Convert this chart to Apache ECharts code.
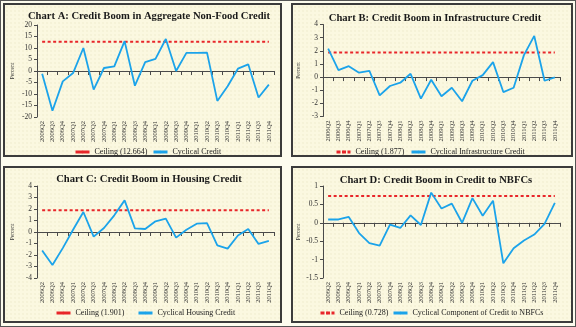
<!DOCTYPE html>
<html>
<head>
<meta charset="utf-8">
<script src="https://cdn.jsdelivr.net/npm/echarts@6/dist/echarts.min.js"></script>
<style>
  html, body { margin: 0; padding: 0; }
  body { width: 576px; height: 327px; position: relative; background: #fdfcee; overflow: hidden; }
  #frame { position: absolute; left: 0; top: 0; width: 576px; height: 327px; border: 1px solid #555; box-sizing: border-box; }
  .panel {
    position: absolute; box-sizing: border-box; border: 2px solid #3c3c3c;
    background-color: #fbf8e0;
    background-image: radial-gradient(rgba(200, 185, 130, 0.3) 0.5px, transparent 0.8px);
    background-size: 4px 4px;
  }
  #chart { position: absolute; left: 0; top: 0; width: 576px; height: 327px; }
</style>
</head>
<body>
<div id="frame"></div>
<div class="panel" style="left:3px;top:3px;width:279px;height:154px"></div>
<div class="panel" style="left:291px;top:3px;width:282px;height:154px"></div>
<div class="panel" style="left:3px;top:166px;width:279px;height:157px"></div>
<div class="panel" style="left:291px;top:166px;width:282px;height:157px"></div>
<div id="chart"></div>
<script>
// Quarterly periods shared by all four panels
const quarters = [
  '2006Q2', '2006Q3', '2006Q4',
  '2007Q1', '2007Q2', '2007Q3', '2007Q4',
  '2008Q1', '2008Q2', '2008Q3', '2008Q4',
  '2009Q1', '2009Q2', '2009Q3', '2009Q4',
  '2010Q1', '2010Q2', '2010Q3', '2010Q4',
  '2011Q1', '2011Q2', '2011Q3', '2011Q4'
];

// Cyclical components (per cent)
const nonFoodCredit = [-1.2, -17.3, -4.5, -0.9, 10.0, -8.1, 1.3, 2.0, 13.0, -6.4, 3.9, 5.3, 13.9, 0.0, 7.9, 7.9, 8.0, -13.0, -6.6, 1.0, 2.9, -11.5, -5.9];
const infraCredit = [2.17, 0.53, 0.83, 0.33, 0.48, -1.39, -0.68, -0.43, 0.25, -1.64, -0.2, -1.46, -0.81, -1.84, -0.28, 0.15, 1.14, -1.14, -0.81, 1.67, 3.13, -0.28, -0.03];
const housingCredit = [-1.6, -2.87, -1.4, 0.2, 1.74, -0.4, 0.35, 1.45, 2.75, 0.32, 0.26, 0.93, 1.16, -0.49, 0.2, 0.72, 0.78, -1.16, -1.45, -0.3, 0.26, -1.04, -0.78];
const nbfcCredit = [0.09, 0.09, 0.16, -0.28, -0.55, -0.62, -0.05, -0.14, 0.2, -0.06, 0.82, 0.39, 0.52, 0.0, 0.67, 0.19, 0.6, -1.1, -0.69, -0.48, -0.32, -0.03, 0.54];

// Boom thresholds
const ceilingNonFood = 12.664;
const ceilingInfra = 1.877;
const ceilingHousing = 1.901;
const ceilingNbfc = 0.728;

// Y-axis scales: [min, max, step]
const scaleNonFood = [-20, 20, 5];
const scaleInfra = [-3, 4, 1];
const scaleHousing = [-4, 4, 1];
const scaleNbfc = [-1.5, 1, 0.5];

const RED = '#e8262a';
const BLUE = '#1ba3ea';
const AXIS = '#4a4a4a';
const SERIF = '"Liberation Serif", "DejaVu Serif", serif';

const panels = [
  {
    title: 'Chart A: Credit Boom in Aggregate Non-Food Credit',
    values: nonFoodCredit, ceiling: ceilingNonFood, scale: scaleNonFood,
    cycName: 'Cyclical Credit', ceilDashedIcon: false,
    grid: { left: 37, top: 25, width: 237, height: 92 },
    titlePos: { x: 144, y: 6 },
    legendPos: { y: 148, red: 74, blue: 152 }
  },
  {
    title: 'Chart B: Credit Boom in Infrastructure Credit',
    values: infraCredit, ceiling: ceilingInfra, scale: scaleInfra,
    cycName: 'Cyclical Infrastructure Credit', ceilDashedIcon: true,
    grid: { left: 323, top: 24.5, width: 237, height: 92 },
    titlePos: { x: 430, y: 8 },
    legendPos: { y: 148, red: 335, blue: 410 }
  },
  {
    title: 'Chart C: Credit Boom in Housing Credit',
    values: housingCredit, ceiling: ceilingHousing, scale: scaleHousing,
    cycName: 'Cyclical Housing Credit', ceilDashedIcon: false,
    grid: { left: 37, top: 186, width: 237, height: 92 },
    titlePos: { x: 144, y: 169 },
    legendPos: { y: 309, red: 55, blue: 137 }
  },
  {
    title: 'Chart D: Credit Boom in Credit to NBFCs',
    values: nbfcCredit, ceiling: ceilingNbfc, scale: scaleNbfc,
    cycName: 'Cyclical Component of Credit to NBFCs', ceilDashedIcon: true,
    grid: { left: 323, top: 186, width: 237, height: 92 },
    titlePos: { x: 431, y: 170 },
    legendPos: { y: 309, red: 319, blue: 392 }
  }
];

const option = {
  backgroundColor: 'transparent',
  animation: false,
  title: [], grid: [], xAxis: [], yAxis: [], series: [], legend: []
};

panels.forEach((p, i) => {
  const ceilName = 'Ceiling (' + p.ceiling + ')';

  option.title.push({
    text: p.title, left: p.titlePos.x, top: p.titlePos.y, textAlign: 'center',
    textStyle: { fontFamily: SERIF, fontWeight: 'bold', fontSize: 10.6, color: '#1a1a1a' }
  });

  option.grid.push(Object.assign({ outerBoundsMode: 'none', containLabel: false }, p.grid));

  // axis line through zero, with ticks between quarters
  option.xAxis.push({
    gridIndex: i, type: 'category', data: quarters, boundaryGap: true,
    axisLine: { show: true, onZero: true, lineStyle: { color: AXIS, width: 1 } },
    axisTick: { show: true, length: 4, interval: 0, lineStyle: { color: AXIS, width: 1 } },
    axisLabel: { show: false },
    splitLine: { show: false }
  });
  // quarter labels along the bottom edge
  option.xAxis.push({
    gridIndex: i, type: 'category', data: quarters, boundaryGap: true, position: 'bottom',
    axisLine: { show: false, onZero: false },
    axisTick: { show: false },
    axisLabel: { show: true, rotate: 90, interval: 0, margin: 4, fontFamily: SERIF, fontSize: 6.5, color: '#333' },
    splitLine: { show: false }
  });

  option.yAxis.push({
    gridIndex: i, type: 'value',
    min: p.scale[0], max: p.scale[1], interval: p.scale[2],
    name: 'Percent', nameLocation: 'middle', nameGap: 21,
    nameTextStyle: { fontFamily: SERIF, fontSize: 5.5, color: '#333' },
    axisLine: { show: true, lineStyle: { color: AXIS, width: 1 } },
    axisTick: { show: true, length: 3, lineStyle: { color: AXIS, width: 1 } },
    axisLabel: { fontFamily: SERIF, fontSize: 7.5, color: '#333', margin: 5 },
    splitLine: { show: false }
  });

  option.series.push({
    name: ceilName, type: 'line', xAxisIndex: i * 2, yAxisIndex: i,
    data: quarters.map(() => p.ceiling),
    symbol: 'none', silent: true,
    lineStyle: { color: RED, width: 2, type: [3, 2.5] },
    itemStyle: { color: RED }
  });
  option.series.push({
    name: p.cycName, type: 'line', xAxisIndex: i * 2, yAxisIndex: i,
    data: p.values,
    symbol: 'none',
    lineStyle: { color: BLUE, width: 1.8 },
    itemStyle: { color: BLUE }
  });

  const legendText = { fontFamily: SERIF, fontSize: 8, color: '#222' };
  option.legend.push({
    left: p.legendPos.red, top: p.legendPos.y, itemWidth: 14, itemHeight: 3, padding: 0,
    textStyle: legendText, selectedMode: false,
    data: [{ name: ceilName, lineStyle: { width: 3, type: p.ceilDashedIcon ? [4, 1.5] : 'solid' } }]
  });
  option.legend.push({
    left: p.legendPos.blue, top: p.legendPos.y, itemWidth: 14, itemHeight: 3, padding: 0,
    textStyle: legendText, selectedMode: false,
    data: [{ name: p.cycName, lineStyle: { width: 3 } }]
  });
});

const chart = echarts.init(document.getElementById('chart'), null, { renderer: 'canvas' });
chart.setOption(option);
</script>
</body>
</html>
